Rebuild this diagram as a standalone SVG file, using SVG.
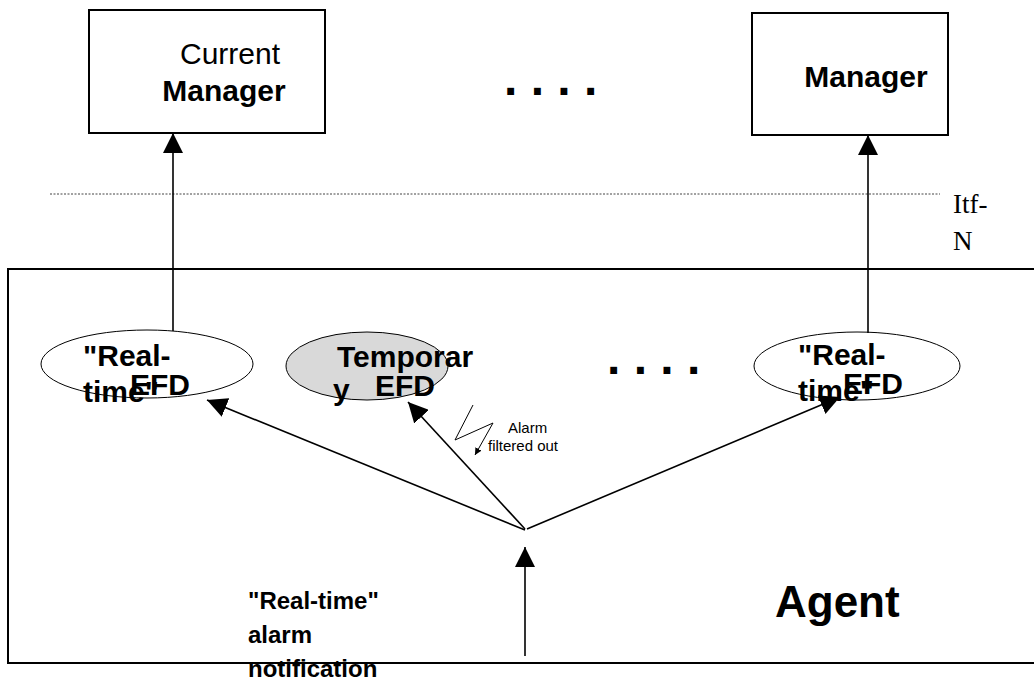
<svg xmlns="http://www.w3.org/2000/svg" width="1034" height="688" viewBox="0 0 1034 688">
<style>
.box{fill:#fff;stroke:#000;stroke-width:2}
.ell{fill:#fff;stroke:#000;stroke-width:1}
.gray{fill:#d9d9d9}
.conn{stroke:#000;stroke-width:1.6;fill:none}
.b{font-family:"Liberation Sans",Arial,sans-serif;font-weight:bold;fill:#000}
.r{font-family:"Liberation Sans",Arial,sans-serif;fill:#000}
.t{font-family:"Liberation Serif","Times New Roman",serif;fill:#000}
</style>
<defs>
<marker id="ah" markerUnits="userSpaceOnUse" markerWidth="20" markerHeight="20" refX="20" refY="10" orient="auto" viewBox="0 0 20 20">
<path d="M0,0 L20,10 L0,20 z" fill="#000"/>
</marker>
<marker id="sh" markerUnits="userSpaceOnUse" markerWidth="7" markerHeight="7" refX="7" refY="3.5" orient="auto" viewBox="0 0 7 7">
<path d="M0,0 L7,3.5 L0,7 z" fill="#000"/>
</marker>
</defs>
<rect width="1034" height="688" fill="#fff"/>

<g id="agent">
<rect x="8" y="269" width="1040" height="394" class="box" stroke-width="1.6"/>
<text x="775" y="617" class="b" font-size="44">Agent</text>
</g>

<g id="itf-line">
<line x1="50" y1="194" x2="940" y2="194" stroke="#444" stroke-width="1" stroke-dasharray="2 1.5"/>
<text class="t" font-size="27"><tspan x="953" y="213">Itf-</tspan><tspan x="953" y="250">N</tspan></text>
</g>

<g id="current-manager">
<rect x="89" y="10" width="236" height="123" class="box"/>
<text x="230" y="64" class="r" font-size="30" text-anchor="middle">Current</text>
<text x="224" y="101" class="b" font-size="30" text-anchor="middle">Manager</text>
</g>

<g id="manager">
<rect x="752" y="13" width="196" height="122" class="box"/>
<text x="866" y="87" class="b" font-size="30" text-anchor="middle">Manager</text>
</g>

<g id="dots-top">
<text x="504" y="95" class="b" font-size="48">. . . .</text>
</g>
<g id="dots-mid">
<text x="607" y="374" class="b" font-size="48">. . . .</text>
</g>

<g id="efd-left">
<ellipse cx="147" cy="364" rx="106" ry="34" class="ell"/>
<text class="b" font-size="30"><tspan x="83" y="366">"Real-</tspan><tspan x="83" y="402">time"</tspan></text>
<text x="130" y="395" class="b" font-size="30">EFD</text>
</g>

<g id="efd-temp">
<ellipse cx="367" cy="366" rx="81" ry="34" class="ell gray"/>
<text class="b" font-size="30"><tspan x="337" y="367">Temporar</tspan><tspan x="333" y="400">y</tspan></text>
<text x="375" y="396" class="b" font-size="30">EFD</text>
</g>

<g id="efd-right">
<ellipse cx="857" cy="366" rx="103" ry="34" class="ell"/>
<text class="b" font-size="30"><tspan x="798" y="365">"Real-</tspan><tspan x="798" y="401">time"</tspan></text>
<text x="843" y="394" class="b" font-size="30">EFD</text>
</g>

<g id="notification">
<text class="b" font-size="24"><tspan x="248" y="609">"Real-time"</tspan><tspan x="248" y="643">alarm</tspan><tspan x="248" y="677">notification</tspan></text>
</g>

<g id="filter-note">
<polyline points="473,405 455,440 493,423 475,455" fill="none" stroke="#000" stroke-width="1" marker-end="url(#sh)"/>
<text x="508" y="433" class="r" font-size="15">Alarm</text>
<text x="488" y="451" class="r" font-size="15">filtered out</text>
</g>

<g id="connectors">
<line x1="173" y1="331" x2="173" y2="133" class="conn" marker-end="url(#ah)"/>
<line x1="868" y1="333" x2="868" y2="135" class="conn" marker-end="url(#ah)"/>
<line x1="525" y1="530" x2="207" y2="400" class="conn" marker-end="url(#ah)"/>
<line x1="525" y1="529" x2="408" y2="402" class="conn" marker-end="url(#ah)"/>
<line x1="527" y1="529" x2="840" y2="397" class="conn" marker-end="url(#ah)"/>
<line x1="525" y1="656" x2="525" y2="547" class="conn" marker-end="url(#ah)"/>
</g>
</svg>
